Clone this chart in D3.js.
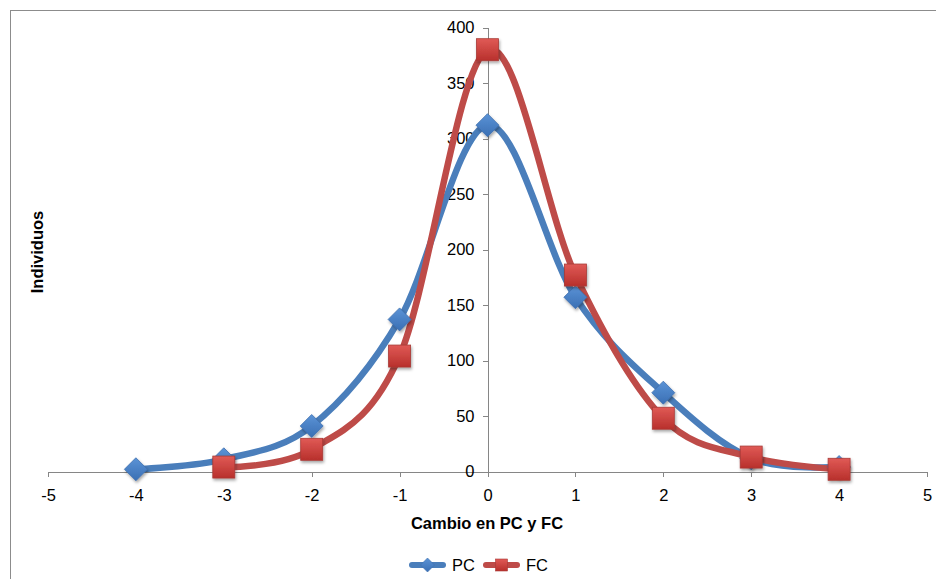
<!DOCTYPE html>
<meta charset="utf-8">
<style>
    body { margin: 0; background: #fff; }
    .axis text { font: 16.5px "Liberation Sans", Arial, sans-serif; fill: #000; }
    .axis path, .axis line { fill: none; stroke: #868686; stroke-width: 1px; shape-rendering: crispEdges; }
    .title { font: bold 16.5px "Liberation Sans", Arial, sans-serif; fill: #000; }
    .legend text { font: 16.5px "Liberation Sans", Arial, sans-serif; fill: #000; }
</style>

<svg width="936" height="579" id="chart"></svg>

<script src="https://cdn.jsdelivr.net/npm/d3@7"></script>
<script>

    // values
    var cambio = [-4, -3, -2, -1, 0, 1, 2, 3, 4];
    var pcValues = [2, 11, 41, 137, 312, 157, 71, 12, 4];
    var fcCambio = [-3, -2, -1, 0, 1, 2, 3, 4];
    var fcValues = [4, 20, 104, 380, 177, 48, 13, 2];
    var xTicks = [-5, -4, -3, -2, -1, 0, 1, 2, 3, 4, 5];
    var yTicks = [0, 50, 100, 150, 200, 250, 300, 350, 400];

    var pcData = cambio.map((c, i) => ({x: c, y: pcValues[i]}));
    var fcData = fcCambio.map((c, i) => ({x: c, y: fcValues[i]}));

    var svg = d3.select("#chart");

    // chart frame (right and bottom run off the picture)
    svg.append("rect")
        .attr("x", 10.5).attr("y", 10.5)
        .attr("width", 940).attr("height", 600)
        .style("fill", "none")
        .style("stroke", "#8c8c8c")
        .style("stroke-width", "1px");

    var x = d3.scaleLinear().domain([-5, 5]).range([48, 927]);
    var y = d3.scaleLinear().domain([0, 400]).range([471.5, 27.5]);

    var defs = svg.append("defs");

    function grad(id, c1, c2) {
        var g = defs.append("linearGradient").attr("id", id)
            .attr("x1", 0).attr("y1", 0).attr("x2", 0).attr("y2", 1);
        g.append("stop").attr("offset", "0%").attr("stop-color", c1);
        g.append("stop").attr("offset", "100%").attr("stop-color", c2);
    }
    grad("gBlue", "#5b93d6", "#3a6fb4");
    grad("gRed", "#e05a56", "#b8302c");

    var shadow = defs.append("filter").attr("id", "shadow")
        .attr("x", "-50%").attr("y", "-50%").attr("width", "200%").attr("height", "200%");
    shadow.append("feDropShadow")
        .attr("dx", 1).attr("dy", 2).attr("stdDeviation", 1.5)
        .attr("flood-color", "#000").attr("flood-opacity", 0.35);

    var plain = d => String(d); // plain hyphen for negatives

    // x axis on y = 0
    svg.append("g")
        .attr("class", "x axis")
        .attr("transform", "translate(0," + y(0) + ")")
        .call(d3.axisBottom(x).tickValues(xTicks).tickFormat(plain).tickSize(5).tickPadding(13).tickSizeOuter(0));

    // y axis on x = 0
    svg.append("g")
        .attr("class", "y axis")
        .attr("transform", "translate(" + x(0) + ",0)")
        .call(d3.axisLeft(y).tickValues(yTicks).tickFormat(plain).tickSize(5).tickPadding(8).tickSizeOuter(0));

    // axis titles
    svg.append("text")
        .attr("class", "title")
        .attr("x", 487).attr("y", 529)
        .attr("text-anchor", "middle")
        .text("Cambio en PC y FC");

    svg.append("text")
        .attr("class", "title")
        .attr("transform", "translate(43,252) rotate(-90)")
        .attr("text-anchor", "middle")
        .text("Individuos");

    // smooth lines like the spreadsheet's smoothed lines
    var line = d3.line()
        .x(d => x(d.x))
        .y(d => y(d.y))
        .curve(d3.curveCardinal.tension(0));

    svg.append("path")
        .datum(pcData)
        .attr("d", line)
        .style("fill", "none")
        .style("stroke", "#4a7ebb")
        .style("stroke-width", "6.5px")
        .style("stroke-linejoin", "round");

    svg.append("path")
        .datum(fcData)
        .attr("d", line)
        .style("fill", "none")
        .style("stroke", "#be4b48")
        .style("stroke-width", "6.5px")
        .style("stroke-linejoin", "round");

    var diamond = "M0,-11.5L11.5,0L0,11.5L-11.5,0Z";

    svg.selectAll(".pcMark")
        .data(pcData)
        .enter()
        .append("path")
        .attr("class", "pcMark")
        .attr("d", diamond)
        .attr("transform", d => "translate(" + x(d.x) + "," + y(d.y) + ")")
        .style("fill", "url(#gBlue)")
        .style("stroke", "#3d6fae")
        .style("stroke-width", "0.8px")
        .attr("filter", "url(#shadow)");

    svg.selectAll(".fcMark")
        .data(fcData)
        .enter()
        .append("rect")
        .attr("class", "fcMark")
        .attr("x", d => x(d.x) - 11)
        .attr("y", d => y(d.y) - 11)
        .attr("width", 22).attr("height", 22)
        .style("fill", "url(#gRed)")
        .style("stroke", "#a83a36")
        .style("stroke-width", "0.8px")
        .attr("filter", "url(#shadow)");

    // legend
    var legend = svg.append("g").attr("class", "legend");
    var items = [
        {name: "PC", color: "#4a7ebb", x0: 412},
        {name: "FC", color: "#be4b48", x0: 486}
    ];
    items.forEach(function(it) {
        var g = legend.append("g").attr("transform", "translate(" + it.x0 + ",565)");
        g.append("line")
            .attr("x1", 0).attr("x2", 31).attr("y1", 0).attr("y2", 0)
            .style("stroke", it.color).style("stroke-width", "6px").style("stroke-linecap", "round");
        if (it.name === "PC") {
            g.append("path").attr("d", "M0,-7L7,0L0,7L-7,0Z")
                .attr("transform", "translate(15.5,0)")
                .style("fill", "url(#gBlue)").style("stroke", "#3d6fae").style("stroke-width", "0.6px");
        } else {
            g.append("rect").attr("x", 9.5).attr("y", -6).attr("width", 12).attr("height", 12)
                .style("fill", "url(#gRed)").style("stroke", "#a83a36").style("stroke-width", "0.6px");
        }
        g.append("text").attr("x", 40).attr("y", 0).attr("dy", "0.35em").text(it.name);
    });

</script>
